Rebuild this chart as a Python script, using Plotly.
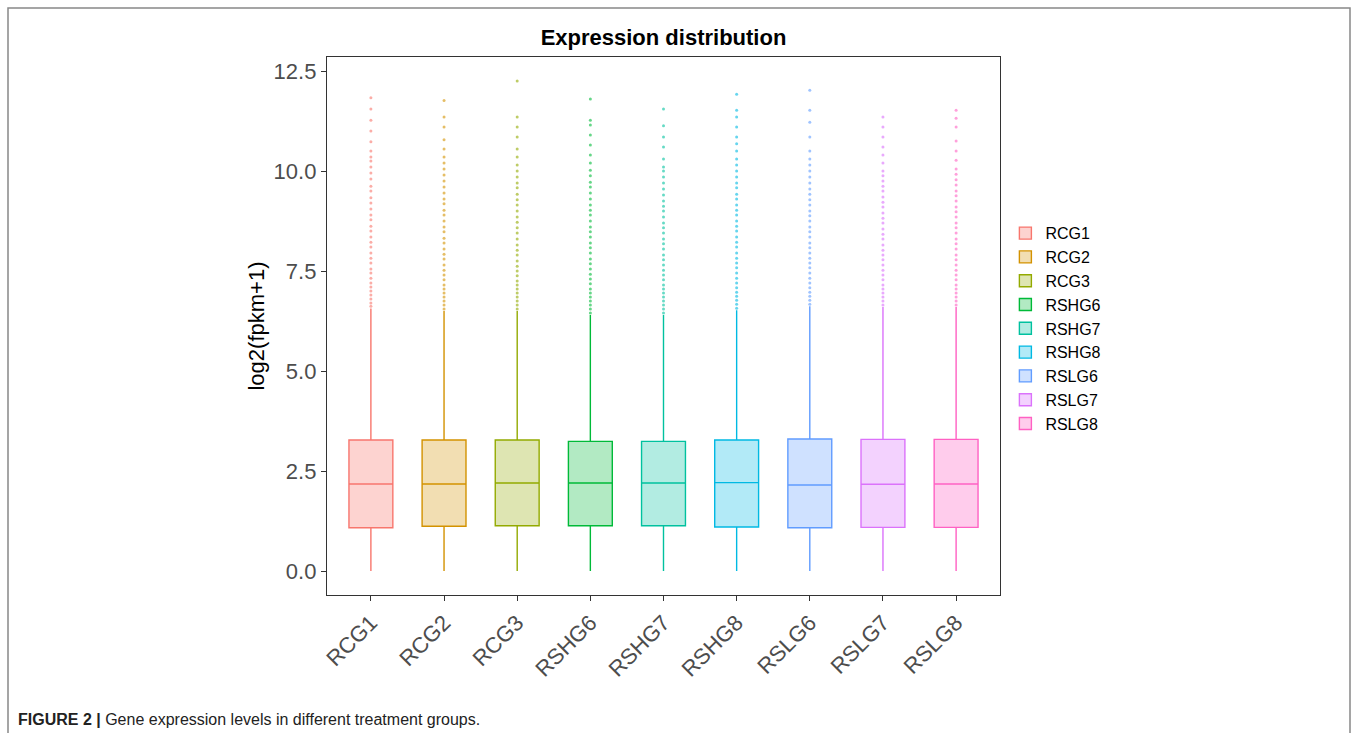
import plotly.graph_objects as go

groups = ["RCG1", "RCG2", "RCG3", "RSHG6", "RSHG7", "RSHG8", "RSLG6", "RSLG7", "RSLG8"]
colors = ["#F8766D", "#D39200", "#93AA00", "#00BA38", "#00C19F", "#00B9E3", "#619CFF", "#DB72FB", "#FF61C3"]
fills = ["rgba(248,118,109,0.32)", "rgba(211,146,0,0.30)", "rgba(147,170,0,0.30)", "rgba(0,186,56,0.30)",
         "rgba(0,193,159,0.30)", "rgba(0,185,227,0.30)", "rgba(97,156,255,0.30)", "rgba(219,114,251,0.32)",
         "rgba(255,97,195,0.32)"]

q1 = [1.08, 1.12, 1.13, 1.13, 1.13, 1.10, 1.08, 1.09, 1.09]
median = [2.175, 2.175, 2.20, 2.20, 2.20, 2.21, 2.15, 2.17, 2.175]
q3 = [3.275, 3.275, 3.275, 3.24, 3.24, 3.275, 3.30, 3.29, 3.29]
lower = [0.0, 0.0, 0.0, 0.0, 0.0, 0.0, 0.0, 0.0, 0.0]
upper = [6.56, 6.5, 6.5, 6.4, 6.4, 6.52, 6.62, 6.6, 6.6]

outliers = [
    [6.62, 6.7, 6.8, 6.9, 7.0, 7.1, 7.2, 7.32, 7.45, 7.55, 7.7, 7.82, 7.95, 8.1, 8.22, 8.35, 8.5, 8.62, 8.78, 8.9,
     9.05, 9.2, 9.33, 9.5, 9.62, 9.8, 9.95, 10.1, 10.25, 10.35, 10.5, 10.73, 11.0, 11.27, 11.55, 11.83],
    [6.55, 6.65, 6.75, 6.85, 6.95, 7.05, 7.15, 7.28, 7.4, 7.52, 7.65, 7.8, 7.92, 8.05, 8.2, 8.32, 8.48, 8.6, 8.75,
     8.9, 9.02, 9.18, 9.3, 9.45, 9.6, 9.75, 9.9, 10.05, 10.2, 10.35, 10.55, 10.78, 11.1, 11.35, 11.76],
    [6.55, 6.65, 6.75, 6.85, 6.95, 7.05, 7.15, 7.25, 7.38, 7.5, 7.62, 7.75, 7.9, 8.02, 8.15, 8.3, 8.45, 8.58, 8.72,
     8.85, 9.0, 9.15, 9.28, 9.42, 9.58, 9.7, 9.85, 10.0, 10.15, 10.35, 10.55, 10.85, 11.1, 11.35, 12.25],
    [6.45, 6.55, 6.65, 6.75, 6.85, 6.95, 7.05, 7.18, 7.3, 7.42, 7.55, 7.68, 7.8, 7.95, 8.08, 8.2, 8.35, 8.48, 8.6,
     8.75, 8.9, 9.02, 9.15, 9.3, 9.45, 9.6, 9.72, 9.88, 10.02, 10.2, 10.4, 10.65, 10.9, 11.15, 11.27, 11.8],
    [6.45, 6.55, 6.65, 6.75, 6.85, 6.95, 7.05, 7.15, 7.28, 7.4, 7.52, 7.65, 7.78, 7.9, 8.05, 8.18, 8.3, 8.45, 8.58,
     8.7, 8.85, 9.0, 9.12, 9.25, 9.4, 9.55, 9.7, 9.85, 10.0, 10.1, 10.3, 10.6, 10.85, 11.13, 11.55],
    [6.57, 6.67, 6.77, 6.87, 6.97, 7.08, 7.2, 7.32, 7.45, 7.58, 7.7, 7.82, 7.95, 8.1, 8.22, 8.35, 8.5, 8.62, 8.75,
     8.9, 9.02, 9.15, 9.3, 9.42, 9.58, 9.7, 9.85, 10.0, 10.15, 10.3, 10.5, 10.68, 10.85, 11.1, 11.35, 11.52, 11.92],
    [6.67, 6.77, 6.87, 6.97, 7.08, 7.2, 7.32, 7.45, 7.58, 7.7, 7.82, 7.95, 8.08, 8.2, 8.35, 8.48, 8.6, 8.75, 8.88,
     9.0, 9.15, 9.28, 9.42, 9.55, 9.7, 9.85, 10.0, 10.15, 10.3, 10.5, 10.85, 11.22, 11.52, 12.02],
    [6.65, 6.75, 6.85, 6.95, 7.05, 7.15, 7.28, 7.4, 7.52, 7.65, 7.78, 7.9, 8.02, 8.15, 8.3, 8.42, 8.55, 8.7, 8.82,
     8.95, 9.1, 9.22, 9.35, 9.5, 9.62, 9.75, 9.88, 10.0, 10.2, 10.4, 10.6, 10.85, 11.1, 11.35],
    [6.65, 6.75, 6.85, 6.95, 7.05, 7.15, 7.28, 7.4, 7.52, 7.65, 7.78, 7.9, 8.05, 8.18, 8.3, 8.45, 8.58, 8.7, 8.85,
     8.98, 9.1, 9.25, 9.38, 9.5, 9.65, 9.78, 9.92, 10.05, 10.27, 10.5, 10.75, 11.1, 11.32, 11.52],
]

title_text = "Expression distribution"
y_title = "log2(fpkm+1)"
y_ticks = [0.0, 2.5, 5.0, 7.5, 10.0, 12.5]
y_ticklabels = ["0.0", "2.5", "5.0", "7.5", "10.0", "12.5"]
caption_bold = "FIGURE 2 |"
caption_rest = " Gene expression levels in different treatment groups."

fig = go.Figure()
for i, g in enumerate(groups):
    fig.add_trace(go.Scatter(
        x=[g] * len(outliers[i]), y=outliers[i], mode="markers",
        marker=dict(color=colors[i], size=3, opacity=0.6),
        showlegend=False, legendgroup=g, hoverinfo="y"))
for i, g in enumerate(groups):
    fig.add_trace(go.Box(
        name=g, x=[g], q1=[q1[i]], median=[median[i]], q3=[q3[i]],
        lowerfence=[lower[i]], upperfence=[upper[i]],
        line=dict(color=colors[i], width=1.4), fillcolor=fills[i],
        whiskerwidth=0, width=0.6, boxpoints=False, legendgroup=g))

fig.update_layout(
    width=1357, height=733,
    paper_bgcolor="white", plot_bgcolor="white",
    margin=dict(l=327, r=357, t=57, b=138, autoexpand=False),
    boxmode="overlay",
    font=dict(family="Liberation Sans, Arial, sans-serif"),
    title=dict(text="<b>" + title_text + "</b>", x=(327 + 1000) / 2 / 1357, xanchor="center",
               y=1 - 37 / 733, yanchor="middle", font=dict(size=22, color="black")),
    xaxis=dict(
        categoryorder="array", categoryarray=groups, range=[-0.6, 8.6],
        showline=True, linecolor="#333333", linewidth=1.3, mirror=True,
        ticks="outside", ticklen=5, tickcolor="#333333", tickangle=-45,
        tickfont=dict(size=22, color="#4D4D4D"), showgrid=False, zeroline=False),
    yaxis=dict(
        range=[-0.6, 12.85], tickvals=y_ticks, ticktext=y_ticklabels,
        showline=True, linecolor="#333333", linewidth=1.3, mirror=True,
        ticks="outside", ticklen=5, tickcolor="#333333",
        tickfont=dict(size=22, color="#4D4D4D"), showgrid=False, zeroline=False,
        title=dict(text=y_title, font=dict(size=22, color="black"), standoff=2)),
    legend=dict(x=1.008, xanchor="left", y=0.495, yanchor="middle",
                font=dict(size=16, color="black"), tracegroupgap=0,
                itemwidth=30, bgcolor="rgba(0,0,0,0)"),
)

# figure frame
fig.add_shape(type="rect", xref="paper", yref="paper",
              x0=(8 - 327) / 673, x1=(1350 - 327) / 673,
              y0=(595 - 740) / 538, y1=(595 - 8) / 538,
              line=dict(color="#888888", width=1.5), fillcolor="rgba(0,0,0,0)", layer="below")

fig.add_annotation(xref="paper", yref="paper", x=(16 - 327) / 673, y=(595 - 719) / 538,
                   xanchor="left", yanchor="middle", showarrow=False,
                   text="<b>" + caption_bold + "</b>" + caption_rest,
                   font=dict(size=16, color="#222222"))

fig.write_html("out.html", config={"displayModeBar": False},
               post_script="document.documentElement.style.margin='0';document.body.style.margin='0';"
                           "document.body.style.overflow='hidden';")
